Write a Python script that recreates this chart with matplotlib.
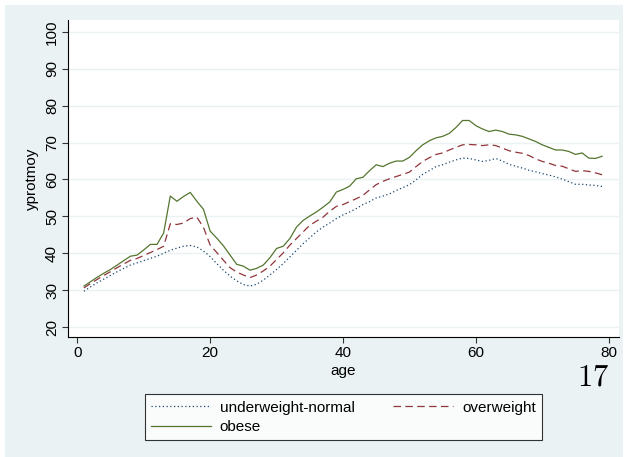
import numpy as np
import matplotlib
matplotlib.use("Agg")
import matplotlib.pyplot as plt
from matplotlib.patches import Rectangle

plt.rcParams['font.family'] = ['Liberation Sans', 'DejaVu Sans']

# mean of yprotmoy by age and BMI group
age = list(range(1, 80))

under_normal = [29.7, 30.9, 32.0, 33.0, 34.0, 35.0, 35.9, 36.8, 37.4, 38.0,
                38.6, 39.2, 40.0, 40.8, 41.4, 41.9, 42.1, 41.7, 40.6, 39.1,
                37.2, 35.4, 33.8, 32.5, 31.5, 31.1, 31.6, 32.7, 34.1, 35.6,
                37.2, 39.0, 40.8, 42.6, 44.2, 45.8, 47.1, 48.2, 49.4, 50.4,
                51.2, 52.1, 53.2, 54.0, 55.0, 55.5, 56.1, 57.0, 57.8, 58.6,
                59.9, 61.4, 62.4, 63.5, 64.0, 64.7, 65.3, 65.8, 65.7, 65.3,
                64.9, 65.2, 65.7, 65.0, 64.1, 63.6, 63.1, 62.5, 62.1, 61.6,
                61.2, 60.7, 60.1, 59.4, 58.7, 58.7, 58.5, 58.4, 58.1]

overweight = [30.6, 31.8, 32.9, 34.0, 35.0, 36.1, 37.1, 38.1, 38.6, 39.4,
              40.2, 41.0, 41.9, 48.0, 47.8, 48.2, 49.4, 49.8, 47.0, 42.2,
              40.2, 38.1, 36.1, 34.9, 34.1, 33.4, 34.1, 35.2, 36.5, 38.3,
              40.1, 42.2, 44.0, 45.8, 47.6, 48.7, 49.8, 51.4, 52.7, 53.2,
              54.0, 54.8, 55.7, 57.2, 58.6, 59.5, 60.2, 60.8, 61.4, 62.0,
              63.5, 64.9, 65.9, 66.8, 67.2, 68.0, 68.7, 69.4, 69.5, 69.4,
              69.2, 69.4, 69.2, 68.5, 67.8, 67.4, 67.1, 66.5, 65.6, 64.9,
              64.4, 63.8, 63.6, 62.9, 62.2, 62.4, 62.2, 61.8, 61.3]

obese = [31.1, 32.3, 33.5, 34.6, 35.6, 36.8, 38.0, 39.2, 39.5, 40.9,
         42.4, 42.4, 45.5, 55.5, 54.1, 55.4, 56.5, 54.1, 51.9, 46.0,
         44.1, 42.0, 39.5, 37.0, 36.5, 35.4, 35.9, 36.8, 38.8, 41.3,
         41.9, 44.0, 47.1, 48.9, 50.1, 51.2, 52.5, 53.9, 56.6, 57.3,
         58.2, 60.2, 60.6, 62.4, 64.0, 63.5, 64.4, 65.0, 65.0, 66.0,
         67.8, 69.4, 70.5, 71.3, 71.7, 72.5, 74.1, 76.0, 76.0, 74.6,
         73.7, 73.0, 73.4, 73.0, 72.3, 72.1, 71.7, 71.0, 70.3, 69.4,
         68.7, 68.0, 68.0, 67.6, 66.8, 67.2, 65.8, 65.7, 66.3]

labels = ["underweight-normal", "overweight", "obese"]
xticks = [0, 20, 40, 60, 80]
yticks = [20, 30, 40, 50, 60, 70, 80, 90, 100]

bg = "#eaf2f3"
W, H = 624, 457

fig = plt.figure(figsize=(W / 100, H / 100), dpi=100)
fig.patch.set_facecolor("white")
fig.patches.append(Rectangle((5 / W, 0), 618 / W, 452 / H, transform=fig.transFigure,
                             facecolor=bg, edgecolor="none", zorder=-10))

ax = fig.add_axes([68 / W, 1 - 337 / H, 551 / W, 317 / H])
ax.set_facecolor("white")

l1, = ax.plot(age, under_normal, color="#1a476f", lw=0.9, linestyle=(0, (1, 2)))
l2, = ax.plot(age, overweight, color="#90353b", lw=0.9, linestyle=(0, (6, 3.5)))
l3, = ax.plot(age, obese, color="#55752f", lw=0.9)

ax.set_xlim(-1.4, 81.55)
ax.set_ylim(17.29, 103.25)
ax.set_xticks(xticks)
ax.set_yticks(yticks)
ax.grid(axis="y", color=bg, lw=1.0)
ax.set_axisbelow(True)

for s in ["top", "right"]:
    ax.spines[s].set_visible(False)
for s in ["left", "bottom"]:
    ax.spines[s].set_color("black")
    ax.spines[s].set_linewidth(0.8)

ax.tick_params(axis="both", direction="out", length=4.5, width=0.8,
               color="#333333", labelsize=11, pad=2)
ax.tick_params(axis="y", labelrotation=90)
for t in ax.get_yticklabels():
    t.set_va("center")

ax.set_xlabel("age", fontsize=11, labelpad=3)
ax.set_ylabel("yprotmoy", fontsize=11, labelpad=4)

leg = fig.legend([l1, l3, l2], [labels[0], labels[2], labels[1]], ncol=2,
                 loc="lower left", mode="expand",
                 bbox_to_anchor=(145 / W, 1 - 440 / H, 397 / W, 51 / H),
                 fontsize=11, frameon=True, fancybox=False, handlelength=3.9,
                 handletextpad=0.6, borderpad=0.4, labelspacing=0.35,
                 borderaxespad=0)
leg.get_frame().set_edgecolor("black")
leg.get_frame().set_linewidth(0.8)

fig.text(609 / W, 1 - 385 / H, r"$17$", fontsize=22, math_fontfamily="cm",
         ha="right", va="baseline")

fig.savefig("out.png", dpi=100, facecolor=fig.get_facecolor())
